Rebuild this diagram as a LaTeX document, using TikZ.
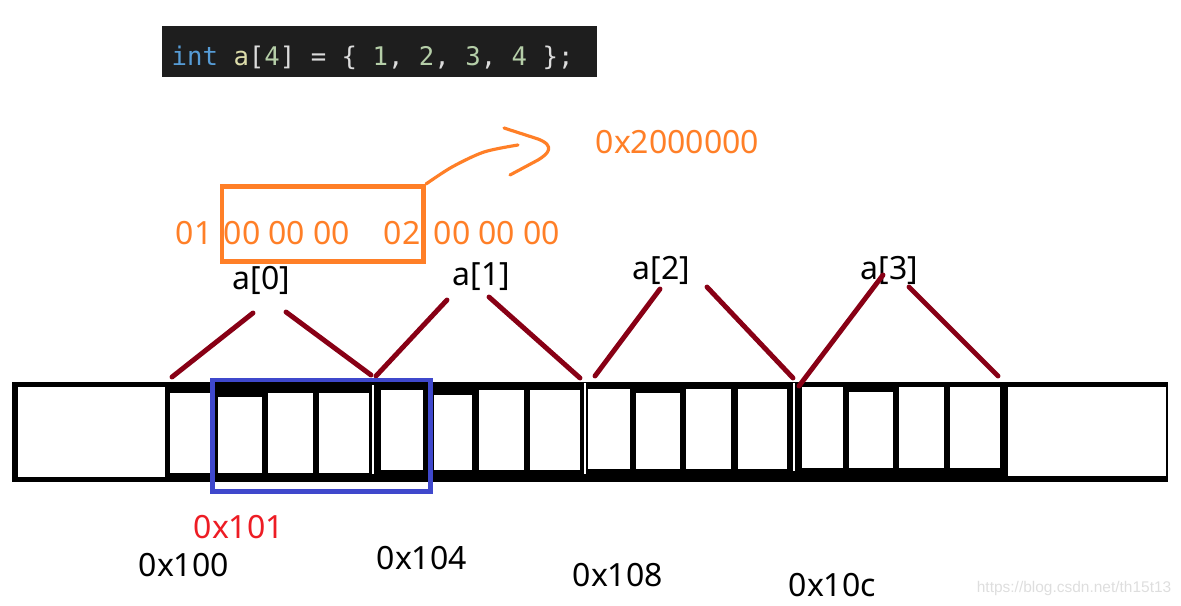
\documentclass[tikz,border=0pt]{standalone}
\usepackage{fontspec}
\setmainfont{Noto Sans}
\newfontfamily\codefont{DejaVu Sans Mono}
\newfontfamily\markfont{Liberation Sans}
\definecolor{paintorange}{HTML}{FF7F27}
\definecolor{paintred}{HTML}{ED1C24}
\definecolor{paintblue}{HTML}{3F48CC}
\definecolor{darkmaroon}{HTML}{880015}
\definecolor{codebg}{HTML}{1E1E1E}
\definecolor{codegrey}{HTML}{DCDCDC}
\definecolor{kwblue}{HTML}{569CD6}
\definecolor{varyellow}{HTML}{DCDCAA}
\definecolor{numgreen}{HTML}{B5CEA8}
\tikzset{
  lbl/.style={inner sep=0pt,anchor=west,font=\fontsize{9.1}{11}\selectfont},
  byte/.style={lbl,text=paintorange},
  link/.style={darkmaroon,line width=1.4pt,line cap=round}
}
\begin{document}
\begin{tikzpicture}[x=0.01cm,y=-0.01cm]
\useasboundingbox (0,0) rectangle (1181,606);

% the declaration
\fill[codebg] (162,26) rectangle (597,77);
\node[inner sep=0pt,anchor=base west,text=codegrey,
  font=\codefont\fontsize{7.3}{9}\selectfont] (code) at (171,65)
  {\textcolor{kwblue}{int} \textcolor{varyellow}{a}[\textcolor{numgreen}{4}] = \{ \textcolor{numgreen}{1}, \textcolor{numgreen}{2}, \textcolor{numgreen}{3}, \textcolor{numgreen}{4} \};};

% bytes in memory
\node[byte] (b01) at (175,233.5) {01};
\node[byte] (b0a) at (223,233.5) {00 00 00};
\node[byte] (b02) at (383,233.5) {02};
\node[byte] (b0b) at (433,233.5) {00 00 00};
\node[byte] (big) at (595,142) {0x2000000};
\draw[paintorange,line width=1.4pt] (222,186.5) rectangle (423.5,261.5);
\draw[paintorange,line width=0.9pt,line cap=round]
  plot[smooth] coordinates {(426,184) (452,167) (484,152) (518,145)};
\draw[paintorange,line width=0.9pt,line cap=round,line join=round]
  (504,128) -- (538,139) .. controls (556,146) and (548,154) .. (538,160) -- (510,175);

% element names
\node[lbl] (a0) at (232,280) {a[0]};
\node[lbl] (a1) at (452,277) {a[1]};
\node[lbl] (a2) at (632,270) {a[2]};
\node[lbl] (a3) at (860,270) {a[3]};

% the strip
\fill (12,382) rectangle (1168,482);
\foreach \xa/\ya/\xb/\yb in {18/387/165/477, 170/393/214/473, 218/397/262/473,
    268/393/313/473, 319/393/369/473, 372/385/374/474, 381/390/423/470,
    434/395/472/470, 479/390/524/470, 530/390/580/470, 584/383/586/474,
    588/389/630/469, 636/393/680/469, 686/389/731/469, 738/389/787/469,
    793/383/795/471, 802/387/843/468, 849/392/893/468, 899/387/944/468,
    950/387/1000/468, 1008/387/1166/476}
  \fill[white] (\xa,\ya) rectangle (\xb,\yb);

% element spans
\coordinate (p0a) at (172,377); \coordinate (q0a) at (253,313);
\coordinate (q0b) at (286,312); \coordinate (p0b) at (371,375);
\coordinate (p1a) at (376,376); \coordinate (q1a) at (447,300);
\coordinate (q1b) at (489,297); \coordinate (p1b) at (580,378);
\coordinate (p2a) at (595,376); \coordinate (q2a) at (660,289);
\coordinate (q2b) at (707,287); \coordinate (p2b) at (793,378);
\coordinate (p3a) at (799,386); \coordinate (q3a) at (883,275);
\coordinate (q3b) at (909,287); \coordinate (p3b) at (998,376);
\foreach \i in {0,...,3}
  \draw[link] (p\i a) -- (q\i a) (q\i b) -- (p\i b);

% the int read from 0x101
\draw[paintblue,line width=1.4pt] (212.5,380) rectangle (430.5,491.5);

% addresses
\node[lbl,text=paintred] (ad101) at (193,527) {0x101};
\node[lbl] (ad100) at (138,565) {0x100};
\node[lbl] (ad104) at (376,558) {0x104};
\node[lbl] (ad108) at (572,575) {0x108};
\node[lbl] (ad10c) at (788,585) {0x10c};

\node[inner sep=0pt,anchor=east,text=black!13,
  font=\markfont\fontsize{4.4}{5}\selectfont] (mark) at (1172,588)
  {https://blog.csdn.net/th15t13};
\end{tikzpicture}
\end{document}
